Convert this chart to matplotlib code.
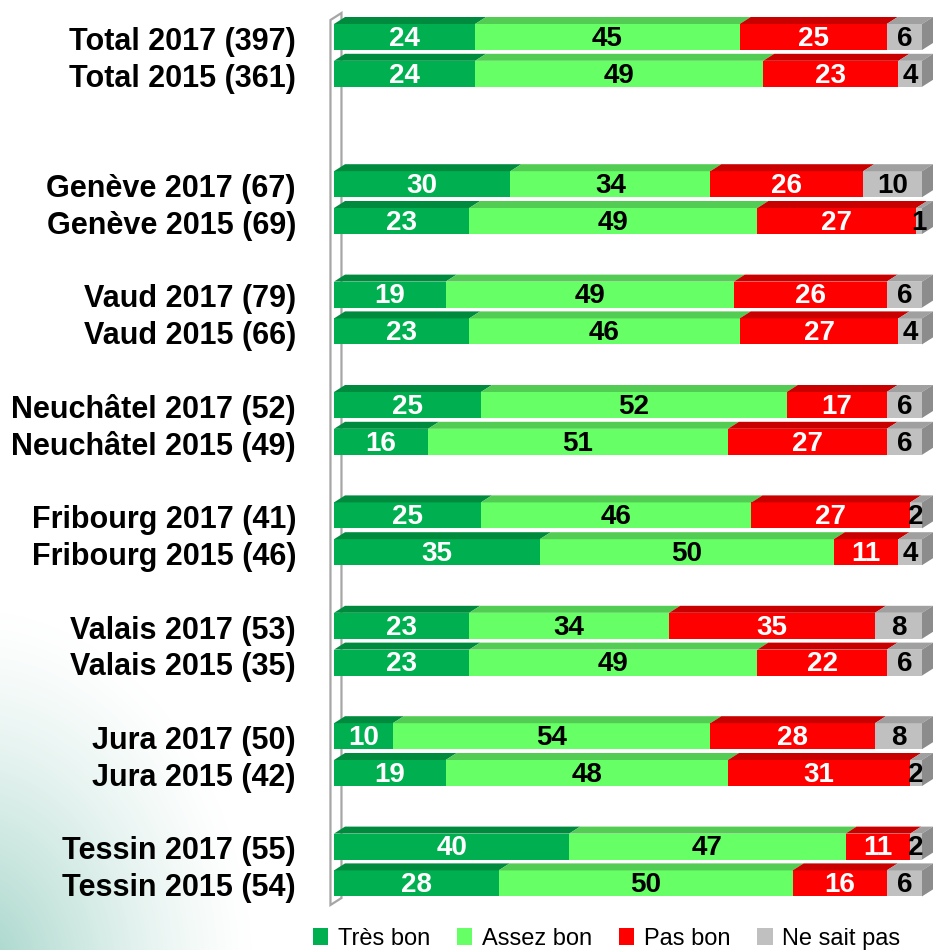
import matplotlib
matplotlib.use('Agg')
import matplotlib.pyplot as plt
from matplotlib.patches import Polygon, Rectangle
import numpy as np

FONT = ['Liberation Sans', 'DejaVu Sans']

labels = ['Total 2017 (397)', 'Total 2015 (361)',
          'Genève 2017 (67)', 'Genève 2015 (69)',
          'Vaud 2017 (79)', 'Vaud 2015 (66)',
          'Neuchâtel 2017 (52)', 'Neuchâtel 2015 (49)',
          'Fribourg 2017 (41)', 'Fribourg 2015 (46)',
          'Valais 2017 (53)', 'Valais 2015 (35)',
          'Jura 2017 (50)', 'Jura 2015 (42)',
          'Tessin 2017 (55)', 'Tessin 2015 (54)']
# row slot of each bar (gaps between groups)
slots = [0, 1, 4, 5, 7, 8, 10, 11, 13, 14, 16, 17, 19, 20, 22, 23]

series = ['Très bon', 'Assez bon', 'Pas bon', 'Ne sait pas']
tres_bon   = [24, 24, 30, 23, 19, 23, 25, 16, 25, 35, 23, 23, 10, 19, 40, 28]
assez_bon  = [45, 49, 34, 49, 49, 46, 52, 51, 46, 50, 34, 49, 54, 48, 47, 50]
pas_bon    = [25, 23, 26, 27, 26, 27, 17, 27, 27, 11, 35, 22, 28, 31, 11, 16]
ne_sait    = [6, 4, 10, 1, 6, 4, 6, 6, 2, 4, 8, 6, 8, 2, 2, 6]

front = ['#00B050', '#66FF66', '#FF0000', '#C0C0C0']
top = ['#008A3E', '#52CC52', '#C80000', '#A0A0A0']
side_col = '#8C8C8C'
txt_col = ['white', 'black', 'white', 'black']

W, H = 936, 950
fig = plt.figure(figsize=(W / 100, H / 100), dpi=100)

# faint teal glow in the lower-left corner
bg = fig.add_axes([0, 0, 1, 1], zorder=-5)
yy, xx = np.mgrid[0:H, 0:W]
r = np.sqrt(((xx + 30) / 290.0) ** 2 + ((H + 30 - yy) / 380.0) ** 2)
alpha = np.clip(1 - r, 0, 1) ** 1.4 * 0.65
img = np.zeros((H, W, 4))
img[..., 0] = 105 / 255
img[..., 1] = 185 / 255
img[..., 2] = 165 / 255
img[..., 3] = alpha
bg.imshow(img, aspect='auto', extent=(0, W, H, 0))
bg.set_xlim(0, W)
bg.set_ylim(H, 0)
bg.axis('off')

# bar axes: 100 % spans pixel 334..922
x0px, x1px = 334, 922
ppx = (x1px - x0px) / 100.0
pitch, off = 36.8, 37.0
ax = fig.add_axes([x0px / W, 0, (x1px - x0px) / W, 1])
ax.set_xlim(0, 100)
ax.set_ylim((H - off) / pitch, -off / pitch)
ax.axis('off')

ddx = 11 / ppx
ddy = 7 / pitch
hh = 13 / pitch

# back wall
wall_top, wall_bot = (20 - off) / pitch, (905 - off) / pitch
wx = -0.6
ax.add_patch(Polygon([(wx, wall_bot), (wx, wall_top), (wx + ddx, wall_top - ddy),
                      (wx + ddx, wall_bot - ddy)], closed=True, facecolor='white',
                     edgecolor='#A6A6A6', lw=1.6, clip_on=False, zorder=1))

data = np.array([tres_bon, assez_bon, pas_bon, ne_sait])
for i, s in enumerate(slots):
    left = 0
    ytop = s - hh
    for k in range(4):
        v = data[k, i]
        ax.add_patch(Rectangle((left, ytop), v, 2 * hh, facecolor=front[k],
                               edgecolor='none', clip_on=False, zorder=3))
        ax.add_patch(Polygon([(left, ytop), (left + v, ytop), (left + v + ddx, ytop - ddy),
                              (left + ddx, ytop - ddy)], closed=True, facecolor=top[k],
                             edgecolor='none', clip_on=False, zorder=3))
        ax.text(left + v / 2, s + 0.05, str(v), ha='center', va='center',
                fontsize=20, fontweight='bold', color=txt_col[k], family=FONT,
                zorder=5, clip_on=False)
        left += v
    ax.add_patch(Polygon([(left, ytop), (left + ddx, ytop - ddy), (left + ddx, s + hh - ddy),
                          (left, s + hh)], closed=True, facecolor=side_col,
                         edgecolor='none', clip_on=False, zorder=3))
    ax.text((296 - x0px) / ppx, s + 0.13, labels[i], ha='right', va='center',
            fontsize=22, fontweight='bold', family=FONT, clip_on=False)

handles = [Rectangle((0, 0), 1, 1, facecolor=c, edgecolor='none') for c in front]
fig.legend(handles, series, loc='lower center', bbox_to_anchor=(0.648, -0.022),
           ncol=4, frameon=False, handlelength=0.65, handleheight=0.75,
           handletextpad=0.4, columnspacing=1.15, prop={'family': FONT, 'size': 17})

fig.savefig('out.png', dpi=100)
